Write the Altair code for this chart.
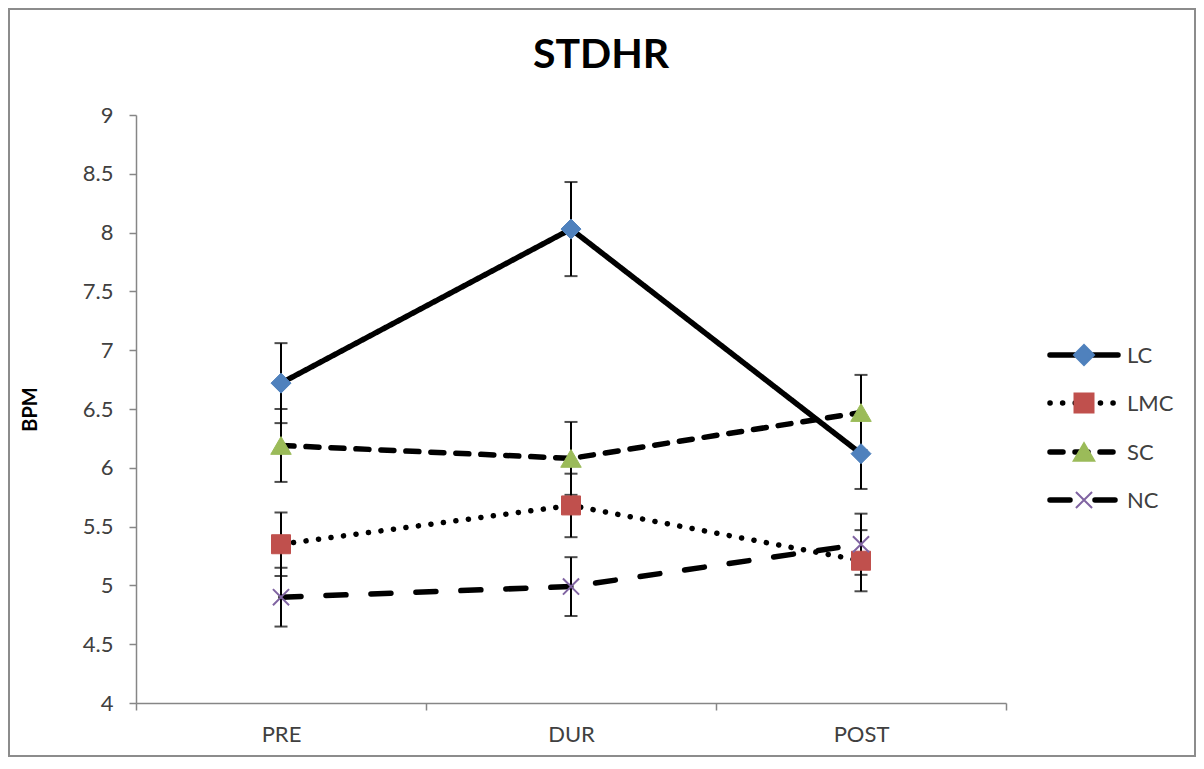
import altair as alt
import pandas as pd

phases = ["PRE", "DUR", "POST"]
series = ["LC", "LMC", "SC", "NC"]

lc_mean = [6.72, 8.03, 6.12]
lc_err = [0.34, 0.40, 0.30]
lmc_mean = [5.35, 5.68, 5.21]
lmc_err = [0.27, 0.27, 0.26]
sc_mean = [6.19, 6.08, 6.47]
sc_err = [0.31, 0.31, 0.32]
nc_mean = [4.90, 4.99, 5.35]
nc_err = [0.25, 0.25, 0.26]

y_ticks = [4, 4.5, 5, 5.5, 6, 6.5, 7, 7.5, 8, 8.5, 9]
title_text = "STDHR"
y_title = "BPM"

means = {"LC": lc_mean, "LMC": lmc_mean, "SC": sc_mean, "NC": nc_mean}
errs = {"LC": lc_err, "LMC": lmc_err, "SC": sc_err, "NC": nc_err}

rows = []
for s in series:
    for i, p in enumerate(phases):
        m, e = means[s][i], errs[s][i]
        rows.append({"phase": p, "series": s, "mean": m, "lo": m - e, "hi": m + e})
df = pd.DataFrame(rows)

FONT = "Lato"
GRAY = "#868686"
TXT = "#404040"

dashes = [[1, 0], [0.1, 12.5], [13, 12], [20, 25]]
styles = {
    "LC": dict(shape="diamond", color="#4F81BD", size=400, filled=True),
    "LMC": dict(shape="square", color="#C0504D", size=361, filled=True),
    "SC": dict(shape="triangle-up", color="#9BBB59", size=420, filled=True),
    "NC": dict(shape="M-1,-1L1,1M-1,1L1,-1", color="#8064A2", size=260, filled=False),
}

W, H = 870, 588
PAD_L, PAD_T, PAD_R, PAD_B = 128, 107, 190, 54

x_enc = alt.X(
    "phase:N", sort=phases,
    scale=alt.Scale(type="band", paddingInner=0, paddingOuter=0),
    axis=alt.Axis(title=None, tickBand="extent", labelAngle=0, labelFont=FONT,
                  labelFontSize=22, labelColor=TXT, labelPadding=14, tickSize=7,
                  tickColor=GRAY, tickWidth=1.5, domainColor=GRAY, domainWidth=1.5,
                  grid=False, zindex=1),
)
y_scale = alt.Scale(domain=[4, 9], nice=False, zero=False)
y_axis = alt.Axis(title=y_title, values=y_ticks, format=".1~f", labelFont=FONT,
                  labelFontSize=22, labelColor=TXT, labelPadding=16, tickSize=7,
                  tickColor=GRAY, tickWidth=1.5, domainColor=GRAY, domainWidth=1.5,
                  grid=False, titleFont=FONT, titleFontSize=20, titleFontWeight="bold",
                  titleColor="black", titleX=-106, titleY=H / 2,
                  titleAlign="center", titleBaseline="middle", titleAngle=-90,
                  zindex=1)

base = alt.Chart(df)

lines = base.mark_line(color="black", strokeWidth=5.5, strokeCap="round").encode(
    x=x_enc,
    y=alt.Y("mean:Q", scale=y_scale, axis=y_axis),
    detail="series:N",
    strokeDash=alt.StrokeDash("series:N", scale=alt.Scale(domain=series, range=dashes),
                              legend=None),
)

err = base.mark_rule(color="black", strokeWidth=2).encode(
    x=alt.X("phase:N", sort=phases), y=alt.Y("lo:Q"), y2="hi:Q"
)
cap_hi = base.mark_tick(color="black", thickness=2, size=13).encode(
    x=alt.X("phase:N", sort=phases), y=alt.Y("hi:Q")
)
cap_lo = base.mark_tick(color="black", thickness=2, size=13).encode(
    x=alt.X("phase:N", sort=phases), y=alt.Y("lo:Q")
)

point_layers = []
for s in series:
    st = styles[s]
    if st["filled"]:
        mk = base.mark_point(shape=st["shape"], size=st["size"], filled=True,
                             fill=st["color"], stroke=st["color"], strokeWidth=1, opacity=1)
    else:
        mk = base.mark_point(shape=st["shape"], size=st["size"], filled=False,
                             stroke=st["color"], strokeWidth=2, opacity=1)
    point_layers.append(
        mk.transform_filter(alt.datum.series == s).encode(
            x=alt.X("phase:N", sort=phases), y=alt.Y("mean:Q")
        )
    )

# manual legend (Excel-style: line + marker + label)
leg_df = pd.DataFrame({"series": series})
leg_y = [240, 288, 337, 385]
leg_layers = []
for i, s in enumerate(series):
    st = styles[s]
    one = alt.Chart(leg_df).transform_filter(alt.datum.series == s)
    leg_layers.append(
        one.mark_rule(color="black", strokeWidth=5.5, strokeCap="round",
                      strokeDash=dashes[i]).encode(
            x=alt.value(914), x2=alt.value(982), y=alt.value(leg_y[i]))
    )
    if st["filled"]:
        lm = one.mark_point(shape=st["shape"], size=st["size"], filled=True,
                            fill=st["color"], stroke=st["color"], opacity=1)
    else:
        lm = one.mark_point(shape=st["shape"], size=st["size"], filled=False,
                            stroke=st["color"], strokeWidth=2, opacity=1)
    leg_layers.append(lm.encode(x=alt.value(948), y=alt.value(leg_y[i])))
    leg_layers.append(
        one.mark_text(align="left", baseline="middle", font=FONT, fontSize=22,
                      color=TXT).encode(text="series:N", x=alt.value(991),
                                        y=alt.value(leg_y[i] + 1))
    )

title = alt.Chart(pd.DataFrame({"t": [title_text]})).mark_text(
    font=FONT, fontSize=41, fontWeight="bold", color="black", align="center",
    baseline="alphabetic").encode(text="t:N", x=alt.value(465), y=alt.value(-47))

border = alt.Chart(pd.DataFrame({"t": [title_text]})).mark_rect(
    fill="transparent", stroke="#8c8c8c", strokeWidth=2).encode(
    x=alt.value(-PAD_L + 1), x2=alt.value(W + PAD_R - 1),
    y=alt.value(-PAD_T + 1), y2=alt.value(H + PAD_B - 1))

chart = alt.layer(
    lines, border, err, cap_hi, cap_lo, *point_layers, *leg_layers, title
).properties(
    width=W, height=H,
    autosize=alt.AutoSizeParams(type="none"),
    padding={"left": PAD_L, "top": PAD_T, "right": PAD_R, "bottom": PAD_B},
).configure(background="white", view=alt.ViewConfig(stroke=None))

chart.save("out.html", embed_options={"renderer": "svg", "actions": False})
